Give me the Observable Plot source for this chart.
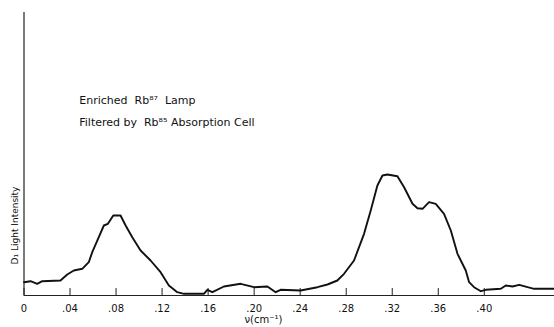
<!DOCTYPE html>
<html>
<head>
<meta charset="utf-8">
<script src="https://cdn.jsdelivr.net/npm/d3@7"></script>
<script src="https://cdn.jsdelivr.net/npm/@observablehq/plot@0.6"></script>
<style>
  html, body { margin: 0; padding: 0; background: #fff; }
  #chart svg { display: block; }
</style>
</head>
<body>
<div id="chart"></div>
<script>
// wavenumber ν (cm^-1)
const nu = [0.000,0.0057,0.0115,0.0158,0.0317,0.0376,0.0433,0.0506,0.0563,0.0593,0.0650,0.0694,0.0729,0.0776,0.0839,0.0883,0.0941,0.1013,0.1100,0.1187,0.1259,0.1332,0.1390,0.1535,0.1563,0.1593,0.1637,0.1737,0.1883,0.1998,0.2115,0.2187,0.2230,0.2404,0.2550,0.2637,0.2723,0.2781,0.2868,0.2955,0.3013,0.3071,0.3115,0.3158,0.3245,0.3303,0.3376,0.3419,0.3463,0.3520,0.3578,0.3650,0.3709,0.3767,0.3839,0.3868,0.3911,0.3970,0.4013,0.4143,0.4187,0.4245,0.4303,0.4376,0.4433,0.4607];
// D1 light intensity (arbitrary units)
const intensity = [13.3,14.3,11.7,14.3,15,21,25,26.7,33.3,43.3,58.3,70,71.7,80,80,70,58.3,45,35,23.3,10,3.3,1.7,1.7,1.7,5.7,3.3,9,11.7,8.3,9,3.3,5.7,5,8.3,11,15,21.7,35,61.7,85,110,120,121,119.3,108.3,91.7,87.3,86.7,93.3,91.7,81.7,65,41.7,25,13.3,8.3,4.3,5.7,6.7,10,9,10.7,8.3,6.7,6.7];
const xTicks = [0,0.04,0.08,0.12,0.16,0.20,0.24,0.28,0.32,0.36,0.40];
const xTickLabels = ["0",".04",".08",".12",".16",".20",".24",".28",".32",".36",".40"];
const annotations = ["Enriched\u00a0 Rb⁸⁷\u00a0 Lamp", "Filtered by\u00a0 Rb⁸⁵ Absorption Cell"];
const xTitle = "ν(cm⁻¹)";
const yTitle = "D₁ Light Intensity";

const data = nu.map((x, i) => ({x, y: intensity[i]}));
const font = "'DejaVu Sans', sans-serif";

const chart = Plot.plot({
  width: 554,
  height: 327,
  marginLeft: 23.5,
  marginRight: 0,
  marginTop: 12,
  marginBottom: 32,
  style: {fontFamily: font, fontSize: "10px", background: "#fff", color: "#111"},
  x: {domain: [0, 0.461], axis: null},
  y: {domain: [0, 283], axis: null},
  marks: [
    Plot.axisX(xTicks, {tickSize: -7, text: null, strokeWidth: 1, stroke: "#222", label: null}),
    Plot.axisX(xTicks, {tickSize: 0, tickPadding: 9, tickFormat: (d, i) => xTickLabels[i], fontSize: 10, label: null}),
    Plot.ruleY([0], {stroke: "#222", strokeWidth: 1.2}),
    Plot.ruleX([0], {stroke: "#222", strokeWidth: 1.2}),
    Plot.line(data, {x: "x", y: "y", stroke: "#111", strokeWidth: 1.9, curve: "linear"}),
    Plot.text([xTitle], {x: 0.208, frameAnchor: "bottom", dy: 27, fontSize: 10}),
    Plot.text([yTitle], {x: 0, y: 70, dx: -9, rotate: -90, fontSize: 9}),
    Plot.text(annotations, {x: 0.048, y: (d, i) => [195, 173][i], textAnchor: "start", fontSize: 11})
  ]
});
document.getElementById("chart").appendChild(chart);
</script>
</body>
</html>
